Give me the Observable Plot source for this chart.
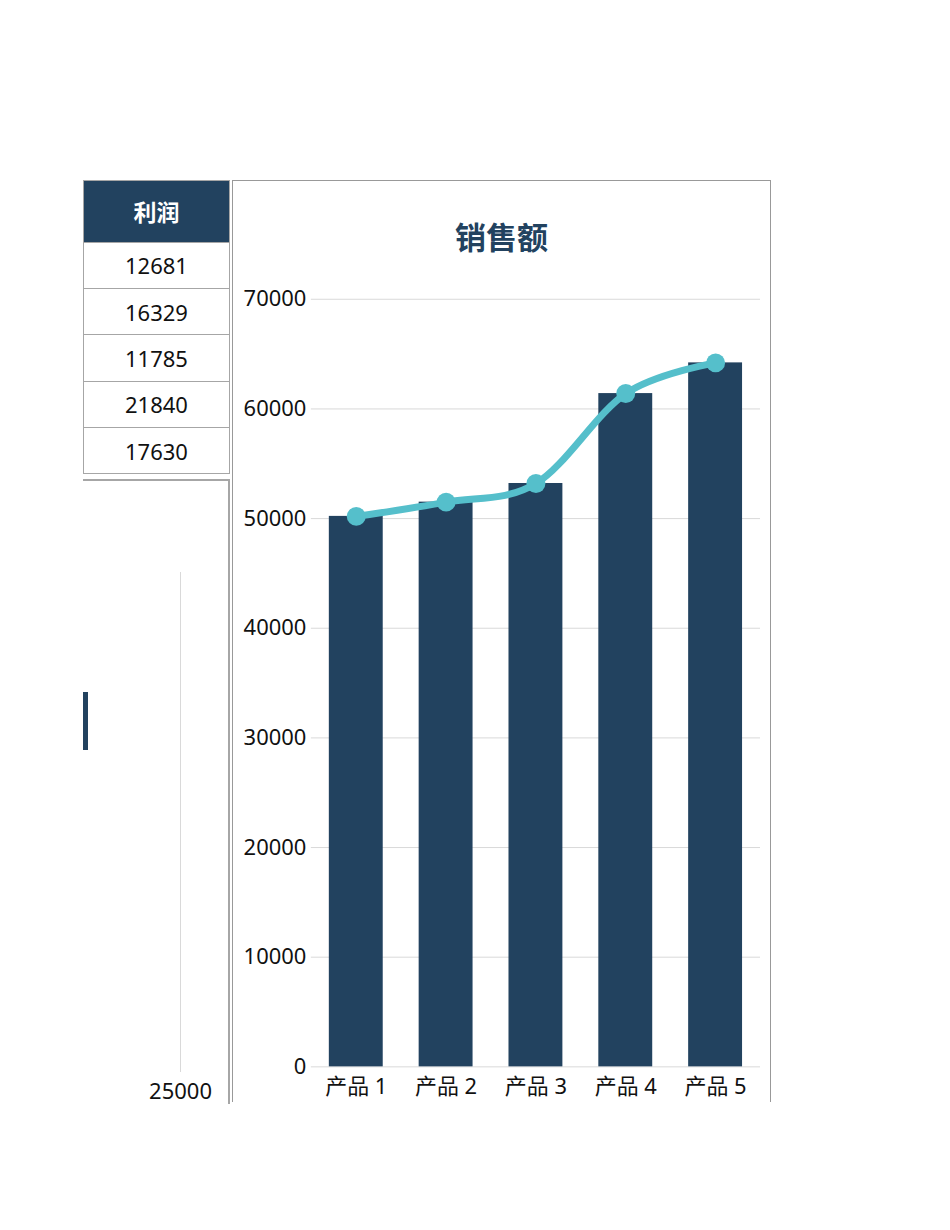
<!DOCTYPE html>
<html><head><meta charset="utf-8">
<script src="https://cdn.jsdelivr.net/npm/d3@7"></script>
<script src="https://cdn.jsdelivr.net/npm/@observablehq/plot@0.6"></script>
<style>
body{margin:0;background:#fff;font-family:"Noto Sans","Noto Sans CJK SC",sans-serif;}
#page{position:relative;width:950px;height:1230px;overflow:hidden;}
.abs{position:absolute;}
table.t{border-collapse:collapse;}
table.t td{border:1px solid #a6a6a6;text-align:center;font-size:22px;color:#111;height:45.4px;padding:0;width:145px;}
table.t th{background:#22425f;color:#fff;font-size:23px;font-weight:bold;height:60.5px;border:1px solid #a6a6a6;padding:0;}
</style></head>
<body><div id="page">
<div id="tbl" class="abs" style="left:83px;top:180px;"></div>
<div id="leftbox" class="abs" style="left:83px;top:479px;width:145px;height:623px;border-top:2px solid #a6a6a6;border-right:2px solid #a6a6a6;overflow:hidden;"></div>
<div id="mainbox" class="abs" style="left:232px;top:180px;width:537px;height:921px;border:1px solid #999;border-bottom:none;overflow:hidden;">
  <div class="abs" style="left:0;width:537px;top:32px;text-align:center;font-family:'Noto Sans CJK SC',sans-serif;font-weight:bold;font-size:31px;color:#22425f;">销售额</div>
  <div id="chart" class="abs" style="left:0;top:0;"></div>
</div>
</div>
<script>
const products = ["产品 1","产品 2","产品 3","产品 4","产品 5"];
const sales = [50200, 51500, 53200, 61400, 64200];
const profits = [12681, 16329, 11785, 21840, 17630];
const yTicks = [0,10000,20000,30000,40000,50000,60000,70000];
const leftTicks = [25000];

// profit table
const tbl = document.createElement("table");
tbl.className = "t";
tbl.innerHTML = `<tr><th>利润</th></tr>` + profits.map(p => `<tr><td>${p}</td></tr>`).join("");
document.getElementById("tbl").appendChild(tbl);

const navy = "#22425f", teal = "#55bfcb", grid = "#d9d9d9";
const data = products.map((p,i) => ({product:p, sales:sales[i]}));
const font = "'Noto Sans','Noto Sans CJK SC',sans-serif";

const main = Plot.plot({
  width: 538, height: 921,
  marginLeft: 78, marginRight: 10, marginTop: 118, marginBottom: 34,
  style: {fontSize: "22px", fontFamily: font, color: "#111", background: "transparent"},
  x: {domain: products, paddingInner: 0.4, paddingOuter: 0.2, label: null},
  y: {domain: [0, 70000], label: null},
  marks: [
    Plot.ruleY(yTicks, {stroke: grid, strokeWidth: 1}),
    Plot.barY(data, {x: "product", y: "sales", fill: navy}),
    Plot.lineY(data, {x: "product", y: "sales", stroke: teal, strokeWidth: 7, curve: "cardinal"}),
    Plot.dot(data, {x: "product", y: "sales", fill: teal, r: 9.5}),
    Plot.axisY({ticks: yTicks, tickSize: 0, tickPadding: 5, tickFormat: d => String(d), fontSize: 22}),
    Plot.axisX({tickSize: 0, tickPadding: 12, fontSize: 22})
  ]
});
document.getElementById("chart").appendChild(main);

// partial profit chart (cropped on the left)
const left = Plot.plot({
  width: 145, height: 623,
  marginLeft: 0, marginRight: 0, marginTop: 91, marginBottom: 32,
  style: {fontSize: "22px", fontFamily: font, color: "#111", background: "transparent"},
  x: {domain: [21840, 25000], range: [5, 97], label: null},
  y: {domain: ["利润"], range: [211, 269], padding: 0, label: null, axis: null},
  marks: [
    Plot.gridX(leftTicks, {stroke: grid, strokeOpacity: 1}),
    Plot.barX([profits[3]], {x: d => d, y: () => "利润", fill: navy}),
    Plot.axisX({ticks: leftTicks, tickSize: 0, tickPadding: 11, tickFormat: d => String(d), fontSize: 22})
  ]
});
document.getElementById("leftbox").appendChild(left);
</script>
</body></html>
